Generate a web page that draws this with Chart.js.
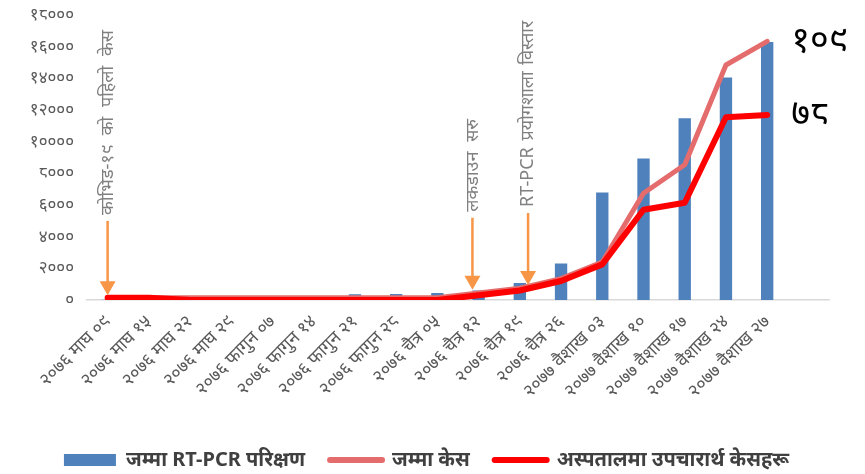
<!DOCTYPE html>
<html lang="ne">
<head>
<meta charset="UTF-8">
<title>RT-PCR परिक्षण र केस</title>
<script src="https://cdn.jsdelivr.net/npm/chart.js"></script>
<style>
  * { margin: 0; padding: 0; box-sizing: border-box; }
  body { background: #fff; width: 865px; height: 474px; overflow: hidden; }
  #wrap { position: relative; width: 865px; height: 474px; }
</style>
</head>
<body>
<div id="wrap"><canvas id="chart" width="865" height="474"></canvas></div>
<script>
// categories (last one is an empty slot, as in the original sheet)
const categories = [
  '२०७६ माघ ०९', '२०७६ माघ १५', '२०७६ माघ २२', '२०७६ माघ २९',
  '२०७६ फागुन ०७', '२०७६ फागुन १४', '२०७६ फागुन २१', '२०७६ फागुन २८',
  '२०७६ चैत्र ०५', '२०७६ चैत्र १२', '२०७६ चैत्र १९', '२०७६ चैत्र २६',
  '२०७७ वैशाख ०३', '२०७७ वैशाख १०', '२०७७ वैशाख १७', '२०७७ वैशाख २४',
  '२०७७ वैशाख २७', ''
];
const seriesNames = ['जम्मा RT-PCR परिक्षण', 'जम्मा केस', 'अस्पतालमा उपचारार्थ केसहरू'];
const rtpcrTests = [10, 20, 50, 90, 120, 150, 360, 380, 440, 600, 1080, 2300, 6800, 8950, 11490, 14070, 16300, null];
const totalCases = [1, 1, 1, 1, 1, 1, 1, 1, 1, 3, 5, 9, 16, 45, 57, 99, 109, null];
const hospitalised = [1, 1, 0, 0, 0, 0, 0, 0, 0, 2, 4, 8, 15, 38, 41, 77, 78, null];
const yTickLabels = ['०', '२०००', '४०००', '६०००', '८०००', '१००००', '१२०००', '१४०००', '१६०००', '१८०००'];

// annotations: text, category position, arrow tip value, arrow tail value
const noteTexts = ['कोभिड-१९ को पहिलो केस', 'लकडाउन सरु', 'RT-PCR प्रयोगशाला विस्तार'];
const notePos = [0, 8.85, 10.2];
const noteTip = [300, 650, 950];
const noteTail = [5000, 5200, 5500];

const devDigits = '०१२३४५६७८९';
function toDev(n) {
  return String(n).replace(/\d/g, d => devDigits[d]);
}

const FONT = "'Noto Sans', 'DejaVu Sans', sans-serif";
const orange = '#F79646';

const notesPlugin = {
  id: 'notes',
  afterLayout(chart) {
    // nudge the legend a bit right, like the original
    chart.legend.left += 12;
    chart.legend.right += 12;
  },
  afterDatasetsDraw(chart) {
    const ctx = chart.ctx;
    const x = chart.scales.x, y = chart.scales.y;
    const step = x.getPixelForValue(1) - x.getPixelForValue(0);
    ctx.save();
    noteTexts.forEach((txt, i) => {
      const px = x.getPixelForValue(0) + notePos[i] * step;
      const tip = y.getPixelForValue(noteTip[i]);
      const tail = y.getPixelForValue(noteTail[i]);
      ctx.strokeStyle = orange;
      ctx.fillStyle = orange;
      ctx.lineWidth = 2.5;
      ctx.beginPath();
      ctx.moveTo(px, tail);
      ctx.lineTo(px, tip - 12);
      ctx.stroke();
      ctx.beginPath();
      ctx.moveTo(px - 8, tip - 14);
      ctx.lineTo(px + 8, tip - 14);
      ctx.lineTo(px, tip);
      ctx.closePath();
      ctx.fill();
      // rotated text
      ctx.save();
      ctx.translate(px, tail - 6);
      ctx.rotate(-Math.PI / 2);
      ctx.fillStyle = '#808080';
      ctx.font = '18px ' + FONT;
      ctx.wordSpacing = i === 2 ? '2px' : '5px';
      ctx.textAlign = 'left';
      ctx.textBaseline = 'middle';
      ctx.fillText(txt, 0, 0);
      ctx.restore();
    });
    // end labels for the two lines
    const y1 = chart.scales.y1;
    const last = totalCases.filter(v => v !== null).length - 1;
    const lx = x.getPixelForValue(last) + 24;
    ctx.fillStyle = '#000';
    ctx.font = '36px ' + FONT;
    ctx.textAlign = 'left';
    ctx.textBaseline = 'middle';
    ctx.fillText(toDev(totalCases[last]), lx, y1.getPixelForValue(totalCases[last]));
    ctx.fillText(toDev(hospitalised[last]), lx, y1.getPixelForValue(hospitalised[last]));
    ctx.restore();
  }
};

const chart = new Chart(document.getElementById('chart'), {
  type: 'bar',
  data: {
    labels: categories,
    datasets: [
      {
        type: 'bar', label: seriesNames[0], data: rtpcrTests,
        backgroundColor: '#4F81BD', yAxisID: 'y', order: 3,
        categoryPercentage: 1, barPercentage: 0.3
      },
      {
        type: 'line', label: seriesNames[1], data: totalCases,
        borderColor: '#E46C6C', backgroundColor: '#E46C6C', borderWidth: 5,
        pointRadius: 0, tension: 0, yAxisID: 'y1', order: 2,
        borderCapStyle: 'round', borderJoinStyle: 'round'
      },
      {
        type: 'line', label: seriesNames[2], data: hospitalised,
        borderColor: '#FF0000', backgroundColor: '#FF0000', borderWidth: 6,
        pointRadius: 0, tension: 0, yAxisID: 'y1', order: 1,
        borderCapStyle: 'round', borderJoinStyle: 'round'
      }
    ]
  },
  options: {
    responsive: false,
    animation: false,
    devicePixelRatio: 1,
    layout: { padding: { top: -11, right: 36, left: 0, bottom: -6 } },
    plugins: {
      tooltip: { enabled: false },
      legend: {
        position: 'bottom',
        labels: {
          usePointStyle: true,
          pointStyleWidth: 52,
          boxHeight: 12,
          padding: 25,
          color: '#404040',
          font: { family: FONT, size: 20, weight: 'bold' },
          generateLabels(chart) {
            return chart.data.datasets.map((ds, i) => ({
              text: ds.label,
              datasetIndex: i,
              fillStyle: ds.backgroundColor,
              strokeStyle: i === 0 ? ds.backgroundColor : ds.borderColor,
              lineWidth: i === 0 ? 0 : 6,
              lineCap: 'round',
              pointStyle: i === 0 ? 'rect' : 'line',
              fontColor: '#404040'
            }));
          }
        }
      }
    },
    scales: {
      x: {
        grid: { display: false },
        border: { color: '#D9D9D9', width: 1.5 },
        ticks: {
          autoSkip: false, maxRotation: 45, minRotation: 45,
          color: '#595959', font: { family: FONT, size: 18 }
        },
        afterFit(scale) { scale.height = 125; }
      },
      y: {
        min: 0, max: 18000,
        grid: { display: false },
        border: { display: false },
        ticks: {
          stepSize: 2000, padding: 5,
          color: '#595959', font: { family: FONT, size: 17 },
          callback: (v, i) => yTickLabels[i]
        },
        afterFit(scale) { scale.width = 87; }
      },
      y1: {
        display: false, min: 0, max: 120
      }
    }
  },
  plugins: [notesPlugin]
});
</script>
</body>
</html>
